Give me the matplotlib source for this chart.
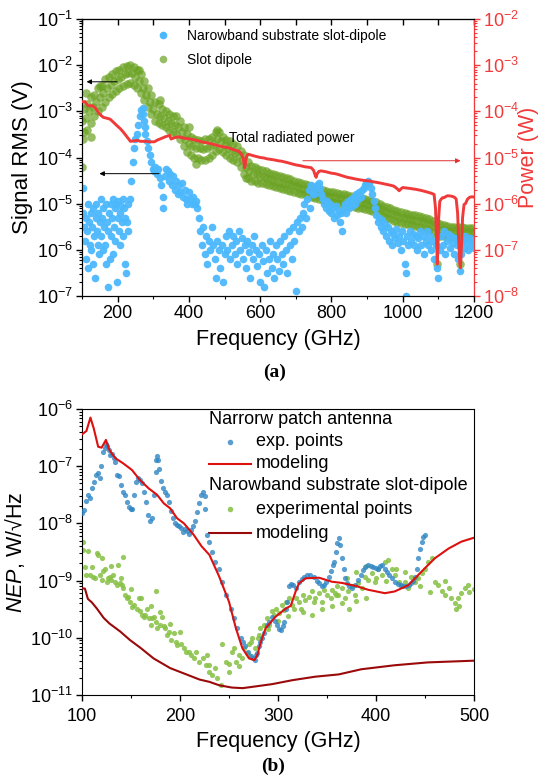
import numpy as np
import matplotlib
matplotlib.use("Agg")
import matplotlib.pyplot as plt
from matplotlib.lines import Line2D
from matplotlib.ticker import LogLocator, MultipleLocator, NullFormatter, FixedLocator

plt.rcParams['font.family'] = ['Liberation Sans', 'DejaVu Sans']
plt.rcParams['mathtext.fontset'] = 'custom'
plt.rcParams['mathtext.rm'] = 'Liberation Sans'
plt.rcParams['mathtext.it'] = 'Liberation Sans:italic'
plt.rcParams['mathtext.bf'] = 'Liberation Sans:bold'

# ---------------- panel (a) data (log10 values) ----------------
power_f = [100,108,117,130,140,146,155,160,170,179,190,198,208,217,226,236,245,255,265,279,290,303,312,322,334,346,350,360,370,380,393,405,416,427,440,450,460,467,480,490,505,515,525,538,545,552,555,557,560,563,567,580,590,600,610,620,638,650,660,676,690,700,714,725,743,750,755,757,760,765,771,785,800,810,820,832,845,858,870,885,895,907,920,935,953,965,975,985,990,995,1000,1010,1020,1037,1050,1060,1074,1082,1088,1092,1095,1097,1099,1101,1104,1108,1112,1116,1120,1125,1130,1138,1145,1150,1154,1157,1160,1162,1165,1168,1172,1176,1182,1188,1195,1200]
power_log10W = [-3.79,-3.79,-3.88,-3.88,-3.95,-4.03,-4.10,-4.13,-4.15,-4.17,-4.25,-4.31,-4.38,-4.46,-4.55,-4.65,-4.64,-4.63,-4.65,-4.65,-4.66,-4.66,-4.62,-4.59,-4.55,-4.52,-4.60,-4.57,-4.55,-4.57,-4.59,-4.60,-4.62,-4.64,-4.67,-4.68,-4.70,-4.71,-4.74,-4.76,-4.78,-4.80,-4.83,-4.86,-4.90,-5.00,-5.15,-5.22,-5.05,-4.95,-4.93,-4.96,-4.98,-5.00,-5.01,-5.03,-5.05,-5.07,-5.08,-5.11,-5.14,-5.16,-5.18,-5.20,-5.22,-5.28,-5.40,-5.43,-5.35,-5.30,-5.29,-5.31,-5.34,-5.35,-5.37,-5.40,-5.43,-5.45,-5.47,-5.49,-5.50,-5.51,-5.53,-5.55,-5.58,-5.60,-5.62,-5.68,-5.72,-5.68,-5.65,-5.66,-5.67,-5.69,-5.71,-5.73,-5.76,-5.78,-5.80,-6.10,-6.80,-7.31,-6.90,-6.30,-5.95,-5.90,-5.87,-5.87,-5.85,-5.83,-5.83,-5.84,-5.86,-5.90,-6.20,-6.80,-7.30,-7.39,-6.90,-6.30,-6.02,-6.00,-5.90,-5.86,-5.85,-5.86]

slot_f_mid = list(range(100, 1201, 10))
slot_log10V_mid = [-3.20,-3.15,-3.00,-2.90,-2.80,-2.70,-2.60,-2.50,-2.42,-2.35,-2.30,-2.25,-2.20,-2.18,-2.17,-2.25,-2.35,-2.50,-2.65,-2.80,-2.95,-3.05,-3.10,-3.15,-3.20,-3.25,-3.30,-3.35,-3.45,-3.60,-3.70,-3.75,-3.80,-3.80,-3.82,-3.80,-3.75,-3.70,-3.60,-3.65,-3.72,-3.80,-3.85,-3.90,-3.95,-4.05,-4.20,-4.30,-4.35,-4.35,-4.40,-4.42,-4.45,-4.47,-4.50,-4.52,-4.55,-4.57,-4.58,-4.60,-4.62,-4.65,-4.68,-4.70,-4.72,-4.75,-4.78,-4.80,-4.82,-4.84,-4.85,-4.86,-4.88,-4.89,-4.90,-4.93,-4.95,-4.97,-4.98,-4.99,-5.00,-5.02,-5.05,-5.08,-5.12,-5.16,-5.20,-5.22,-5.25,-5.28,-5.30,-5.31,-5.33,-5.35,-5.37,-5.38,-5.40,-5.42,-5.45,-5.50,-5.55,-5.56,-5.58,-5.59,-5.60,-5.60,-5.60,-5.61,-5.62,-5.62,-5.62]
slot_f_edge = list(range(105, 1200, 10))
slot_log10V_up = [-2.95,-2.85,-2.70,-2.65,-2.50,-2.45,-2.30,-2.25,-2.20,-2.12,-2.10,-2.05,-2.02,-2.00,-2.05,-2.10,-2.20,-2.35,-2.50,-2.65,-2.80,-2.85,-2.95,-3.00,-3.05,-3.10,-3.10,-3.20,-3.35,-3.50,-3.55,-3.60,-3.62,-3.65,-3.60,-3.60,-3.55,-3.45,-3.45,-3.55,-3.62,-3.65,-3.70,-3.75,-3.85,-3.95,-4.10,-4.18,-4.20,-4.25,-4.28,-4.30,-4.33,-4.35,-4.38,-4.40,-4.42,-4.44,-4.47,-4.50,-4.52,-4.55,-4.57,-4.60,-4.63,-4.65,-4.68,-4.70,-4.72,-4.74,-4.75,-4.77,-4.78,-4.80,-4.82,-4.84,-4.86,-4.88,-4.88,-4.90,-4.92,-4.94,-4.97,-5.00,-5.04,-5.08,-5.10,-5.13,-5.16,-5.18,-5.20,-5.22,-5.24,-5.25,-5.27,-5.29,-5.30,-5.33,-5.37,-5.42,-5.45,-5.47,-5.48,-5.50,-5.50,-5.50,-5.51,-5.52,-5.52,-5.52]
slot_log10V_lo = [-3.45,-3.40,-3.25,-3.10,-3.00,-2.90,-2.80,-2.70,-2.62,-2.55,-2.50,-2.45,-2.40,-2.38,-2.42,-2.50,-2.60,-2.75,-2.90,-3.05,-3.20,-3.25,-3.30,-3.35,-3.40,-3.45,-3.50,-3.60,-3.75,-3.88,-3.95,-4.00,-4.02,-4.05,-4.05,-4.00,-3.95,-3.85,-3.82,-3.88,-3.95,-4.00,-4.05,-4.10,-4.20,-4.35,-4.45,-4.50,-4.50,-4.55,-4.56,-4.58,-4.60,-4.62,-4.64,-4.66,-4.68,-4.70,-4.72,-4.74,-4.76,-4.78,-4.80,-4.83,-4.86,-4.88,-4.90,-4.93,-4.95,-4.96,-4.97,-4.99,-5.00,-5.02,-5.04,-5.06,-5.08,-5.09,-5.10,-5.11,-5.13,-5.16,-5.19,-5.23,-5.27,-5.31,-5.34,-5.37,-5.40,-5.42,-5.43,-5.45,-5.47,-5.49,-5.50,-5.52,-5.54,-5.57,-5.62,-5.68,-5.70,-5.70,-5.72,-5.72,-5.73,-5.73,-5.74,-5.74,-5.75,-5.75]
slot_f_extra = [100,104,112,125,150,260,320,400,420,480,560,1097,1162]
slot_log10V_extra = [-4.20,-3.60,-2.60,-3.55,-2.45,-2.10,-2.75,-3.35,-4.15,-3.40,-4.45,-6.30,-6.30]

nb_f = [102,104,106,108,110,112,114,116,118,120,122,124,126,128,130,132,134,136,138,140,142,144,146,148,150,152,154,156,158,160,162,164,166,168,170,172,174,176,178,180,182,184,186,188,190,192,194,196,198,200,202,204,206,208,210,212,214,216,218,220,222,224,226,228,230,
        234,238,242,246,250,254,258,262,266,270,272,274,276,278,282,286,290,294,298,302,
        306,310,314,318,322,326,328,332,336,340,344,348,352,356,360,364,368,372,376,380,384,388,392,396,400,404,408,412,416,420,424,428,432,436,440,444,448,452,456,460,
        464,468,472,476,480,484,488,492,496,500,504,508,512,516,520,524,528,532,536,540,544,548,552,556,560,564,568,572,576,580,584,588,592,596,600,604,608,612,616,620,624,628,632,636,640,644,648,652,656,660,664,668,672,676,680,684,688,692,696,700,704,708,712,716,720,724,728,732,736,740,744,748,
        752,756,760,764,768,772,776,780,784,788,792,796,800,804,808,812,816,820,824,828,830,834,838,842,846,850,854,858,862,866,870,874,878,882,886,890,894,898,902,906,910,914,918,922,926,930,934,938,942,946,950,954,958,962,966,970,974,978,982,986,990,994,998,1002,1006,1008,1010,1012,1016,1020,1024,1028,1032,1036,1040,1044,1048,1052,1056,1060,1064,1068,1072,1076,1080,1084,1088,1092,1096,1100,1104,1108,1112,1116,1120,1124,1128,1132,1136,1140,1144,1148,1152,1156,1160,1164,1168,1172,1176,1180,1184,1188,1192,1196,1200]
nb_log10V = [-4.65,-5.2,-5.5,-5.8,-6.2,-5.3,-5.6,-5.0,-6.4,-5.4,-5.9,-5.2,-6.0,-5.5,-5.1,-6.3,-5.7,-6.6,-5.3,-5.0,-5.6,-5.9,-5.2,-6.1,-5.4,-4.9,-5.7,-5.3,-6.0,-5.1,-5.5,-5.9,-5.0,-6.3,-5.4,-6.8,-5.6,-5.2,-6.2,-5.0,-5.7,-5.3,-6.1,-4.9,-5.5,-5.1,-5.8,-5.0,-6.7,-5.3,-4.95,-5.6,-5.2,-5.9,-5.05,-5.4,-4.9,-5.7,-5.1,-6.3,-5.3,-6.5,-5.4,-5.0,-5.6,
             -4.9,-4.5,-4.1,-3.8,-3.6,-3.5,-3.3,-3.1,-2.98,-2.92,-3.05,-3.2,-3.35,-3.5,-3.65,-3.8,-3.95,-4.1,-4.25,-4.3,
             -4.2,-4.35,-4.25,-4.45,-4.6,-4.85,-5.1,-4.4,-4.25,-4.3,-4.5,-4.35,-4.6,-4.4,-4.7,-4.5,-4.8,-4.6,-4.75,-4.55,-4.85,-4.7,-4.9,-5.0,-4.75,-4.9,-5.0,-4.85,-5.0,-4.95,-5.1,-5.3,-5.6,-5.9,-5.5,-6.1,-5.7,-6.3,-5.8,-6.0,
             -5.5,-5.9,-6.2,-6.6,-5.8,-6.0,-6.4,-5.9,-6.7,-6.1,-5.7,-6.0,-5.6,-6.2,-5.9,-5.7,-6.1,-5.8,-6.3,-5.6,-6.0,-5.75,-6.2,-5.9,-6.4,-5.8,-6.05,-6.6,-5.9,-6.2,-5.7,-6.0,-6.35,-6.1,-6.7,-5.9,-6.25,-6.8,-6.0,-6.5,-6.2,-5.8,-6.4,-6.1,-6.6,-5.9,-6.2,-6.45,-5.8,-6.1,-6.3,-5.7,-6.0,-6.5,-5.6,-5.9,-6.2,-5.5,-5.8,-6.9,-5.4,-5.6,-5.3,-5.5,-5.2,-5.0,-5.3,-4.9,-4.7,-5.1,-4.6,-4.8,
             -4.8,-4.65,-4.6,-4.55,-4.65,-4.8,-4.9,-5.0,-5.1,-4.95,-5.15,-5.0,-5.2,-5.1,-5.3,-5.05,-5.25,-5.15,-5.4,-5.2,-5.6,-5.1,-5.0,-5.2,-4.95,-5.1,-4.9,-5.05,-4.85,-5.0,-4.8,-4.9,-4.75,-4.85,-4.7,-4.65,-4.6,-4.55,-4.5,-4.55,-4.65,-4.8,-4.95,-5.1,-5.25,-5.4,-5.3,-5.5,-5.35,-5.6,-5.45,-5.7,-5.5,-5.8,-5.6,-5.9,-5.65,-5.75,-5.55,-5.85,-5.7,-6.0,-5.6,-5.8,-6.3,-6.5,-7.0,-5.7,-5.9,-5.6,-5.8,-5.65,-5.9,-5.7,-6.0,-5.75,-5.6,-5.9,-5.7,-6.1,-5.8,-5.6,-5.9,-5.7,-6.0,-5.8,-6.2,-5.9,-6.4,-6.6,-6.0,-5.7,-5.9,-5.6,-6.1,-5.8,-5.65,-5.95,-5.7,-5.85,-6.1,-5.75,-5.9,-6.2,-6.45,-6.1,-5.8,-5.95,-5.7,-5.85,-6.0,-5.75,-5.9,-5.8,-5.95]

# ---------------- panel (b) data (log10 values) ----------------
patch_exp_f = [100,102,104,106,108,110,112,114,116,118,119,121,123,124,126,128,129,131,133,134,136,138,140,142,144,146,148,150,151,153,155,157,159,161,163,165,167,169,171,173,175,176,177,178,179,181,183,185,187,189,191,193,195,197,199,201,203,205,207,209,211,213,215,217,219,221,223,225,226,228,230,233,236,240,243,247,252,255,258,262,264,266,269,272,274,276.5,278,279,281,282,284,286,289,291,294,297,299,301,303,305,306,308,309.5,311,313,315,318,321,324,327,330,333,337,340,342,345,347,349,352,354,356,357,359,360.5,362,363,365,367,368.5,370,372,375,379,382,385,387,389,392,395,397,400,402,404,406,409,411,413,416,419,422,425,428,431,434,436,438,440,441.5,443,445,446.6,448,450]
patch_exp_log10 = [-7.82,-7.77,-7.6,-7.5,-7.55,-7.38,-7.27,-7.15,-7.12,-7.2,-7.0,-6.75,-6.68,-6.62,-6.64,-6.72,-6.8,-6.78,-6.86,-6.92,-7.15,-7.18,-7.33,-7.45,-7.5,-7.62,-7.71,-7.74,-7.74,-7.5,-7.27,-7.2,-7.24,-7.3,-7.45,-7.62,-7.85,-7.95,-7.9,-7.5,-7.1,-6.9,-6.83,-6.9,-7.05,-7.25,-7.38,-7.45,-7.5,-7.62,-7.78,-7.9,-8.0,-8.03,-8.05,-8.08,-8.15,-8.1,-8.13,-8.18,-8.12,-8.05,-7.95,-7.8,-7.65,-7.5,-7.45,-7.52,-7.74,-8.2,-8.32,-8.5,-8.67,-8.79,-9.02,-9.25,-9.49,-9.66,-9.83,-10.0,-10.07,-10.15,-10.24,-10.32,-10.36,-10.39,-10.3,-10.27,-10.15,-10.07,-10.0,-9.92,-9.78,-9.72,-9.63,-9.7,-9.78,-9.84,-9.86,-9.8,-9.72,-9.5,-9.37,-9.1,-9.06,-9.08,-9.13,-9.02,-8.97,-8.93,-8.9,-8.9,-8.93,-9.0,-9.05,-9.1,-9.07,-9.02,-8.93,-8.84,-8.72,-8.67,-8.5,-8.35,-8.26,-8.38,-8.61,-8.79,-8.96,-9.05,-9.1,-9.13,-9.08,-8.99,-8.9,-8.82,-8.76,-8.73,-8.74,-8.76,-8.78,-8.79,-8.75,-8.73,-8.79,-8.85,-8.9,-8.96,-9.02,-9.06,-9.08,-9.1,-9.1,-9.07,-9.05,-9.0,-8.93,-8.79,-8.61,-8.44,-8.32,-8.23,-8.2]

patch_model_f = [100,104.5,108.6,112,116.5,120,124.4,128,134,142,151,159,168,176.6,183.5,190,197,204,214,222,230,240,250,257,263.6,270.4,276,279,282,287.4,297.6,307.8,313,318,321.4,328,342,355,365,378.6,392,409,419,433,446.6,460,474,487,500]
patch_model_log10 = [-6.443,-6.385,-6.15,-6.34,-6.66,-6.676,-6.54,-6.717,-6.86,-6.95,-7.066,-7.24,-7.387,-7.5,-7.65,-7.737,-7.91,-8.0,-8.2,-8.4,-8.55,-8.93,-9.37,-9.83,-10.18,-10.36,-10.39,-10.3,-10.1,-9.83,-9.63,-9.49,-9.44,-9.19,-9.05,-8.96,-8.95,-9.02,-9.04,-9.09,-9.16,-9.22,-9.19,-9.08,-8.84,-8.61,-8.44,-8.32,-8.25]

slotb_exp_f = [101,101,103,104.5,106,108,110,111,113,115,116.5,118,120,121.6,123,125,127,128.5,130,132,133.7,135.4,137,139,140.5,142,144,142,145.7,147.4,149,151,152.6,156,157.7,159.5,161,163,164.6,166,168,170,171.5,173,175,175,176.6,180,181.8,183.5,185,187,188.7,190.4,193.8,195.5,197,200.7,204,206,209,211,214.4,216,219.6,223,226.5,228,
               229.6,233,236,238,241.5,243,246.6,250,253,255,257,260,263.6,265,268.7,270,272,273.8,277,280.6,282,285.7,289,291,294,296,297.6,301,304,306,308,311,314.6,316,318,321,323,325,328,331.6,335,336.7,338,342,345,347,350,353.7,355,359,360.5,
               358,361.6,365,368.4,371.8,375,378.6,382,385.4,388.8,392,395.6,399,402,406,409,412.6,416,419,423,426,429.6,433,436,440,443,446.6,450,453,456.8,460,463.6,467,470,474,477,480.6,484,487,491,494,482,
               325,335,345,355,365,372,380,390,300,310,290,280,270,260,250,230,200,190,180,170,160,150,140,130,120,420,430,445,455,470,485,495,500,400,410,390,380,370]
slotb_exp_log10 = [-8.32,-8.47,-8.76,-8.9,-8.49,-8.9,-8.76,-8.93,-8.96,-8.52,-8.55,-8.9,-8.99,-8.84,-8.79,-9.02,-8.96,-8.93,-8.99,-8.9,-9.02,-9.08,-8.73,-9.05,-9.08,-9.13,-9.25,-8.58,-9.31,-9.28,-9.37,-9.46,-9.43,-9.49,-9.31,-9.54,-9.6,-9.63,-9.6,-9.49,-9.66,-9.78,-9.66,-9.63,-9.19,-9.72,-9.83,-9.78,-9.63,-9.8,-9.83,-9.95,-9.89,-10.04,-9.92,-10.07,-10.13,-10.1,-10.18,-10.24,-10.24,-10.3,-10.36,-10.24,-10.42,-10.36,-10.48,-10.3,
                   -10.48,-10.65,-10.53,-10.71,-10.83,-10.1,-10.42,-10.59,-10.24,-10.18,-10.42,-10.3,-10.36,-10.18,-10.27,-10.1,-10.07,-10.01,-10.18,-9.95,-9.83,-9.78,-9.66,-9.78,-9.54,-9.6,-9.49,-9.57,-9.43,-9.51,-9.37,-9.31,-9.43,-9.49,-9.31,-9.37,-9.49,-9.25,-9.34,-9.28,-9.19,-9.37,-9.31,-9.22,-9.37,-9.16,-9.25,-9.31,-9.16,-9.25,-9.1,
                   -9.22,-9.25,-9.13,-9.31,-9.19,-9.1,-9.25,-9.05,-9.13,-8.93,-8.99,-8.87,-9.02,-8.79,-8.9,-8.67,-8.64,-8.79,-8.9,-9.02,-9.1,-9.02,-9.13,-8.93,-9.02,-8.96,-8.87,-8.79,-8.67,-8.61,-9.02,-9.08,-9.19,-9.25,-9.13,-9.31,-9.4,-9.31,-9.22,-9.13,-9.08,-9.49,
                   -9.55,-9.6,-9.5,-9.45,-9.4,-9.5,-9.35,-9.3,-9.7,-9.62,-9.85,-10.0,-10.3,-10.5,-10.45,-10.6,-9.9,-9.75,-9.55,-9.45,-9.3,-9.15,-8.95,-8.75,-8.6,-8.8,-8.85,-9.1,-9.2,-9.0,-9.45,-9.2,-9.15,-8.95,-9.0,-8.75,-8.85,-8.95]

slotb_model_f = [100,103,106,110,115,122,128,139,149,160,173,190,208,220,230,240,253,264,277,294,315,338,362,385,419,453,500]
slotb_model_log10 = [-9.135,-9.14,-9.32,-9.38,-9.485,-9.65,-9.75,-9.89,-10.04,-10.18,-10.36,-10.53,-10.65,-10.73,-10.77,-10.83,-10.87,-10.88,-10.85,-10.81,-10.74,-10.68,-10.64,-10.55,-10.48,-10.43,-10.40]

# ---------------- figure ----------------
W, H = 541, 782
fig = plt.figure(figsize=(W / 100, H / 100), dpi=100)

def frac_axes(l, t, r, b):
    return [l / W, 1 - b / H, (r - l) / W, (b - t) / H]

C_BLUE = '#4cb8fc'
C_GREEN = '#6aa222'
C_RED = '#f03a3a'

ax1 = fig.add_axes(frac_axes(82, 19, 474, 296))
for fx, fy in [(slot_f_mid, slot_log10V_mid), (slot_f_edge, slot_log10V_up),
               (slot_f_edge, slot_log10V_lo), (slot_f_extra, slot_log10V_extra)]:
    ax1.scatter(fx, 10 ** np.array(fy), s=38, color=C_GREEN, alpha=0.7, lw=0, zorder=2)
ax1.scatter(nb_f, 10 ** np.array(nb_log10V), s=30, color=C_BLUE, alpha=0.95, lw=0, zorder=3)
ax1.set_xlim(100, 1200)
ax1.set_ylim(1e-7, 1e-1)
ax1.set_yscale('log')
ax1.xaxis.set_major_locator(MultipleLocator(200))
ax1.xaxis.set_minor_locator(MultipleLocator(100))
ax1.yaxis.set_major_locator(LogLocator(base=10, numticks=20))
ax1.yaxis.set_minor_locator(LogLocator(base=10, subs=np.arange(2, 10), numticks=20))
ax1.yaxis.set_minor_formatter(NullFormatter())
ax1.tick_params(axis='both', which='major', direction='out', length=4.5, width=1, labelsize=13, pad=2)
ax1.tick_params(axis='both', which='minor', direction='out', length=2.5, width=0.8)
ax1.set_xlabel('Frequency (GHz)', fontsize=15.5, labelpad=5)
ax1.set_ylabel('Signal RMS (V)', fontsize=16, labelpad=3)
sec = ax1.secondary_xaxis('top')
sec.set_xticks(np.arange(100, 1201, 100))
sec.tick_params(direction='in', length=4.5, width=1, labeltop=False)
sec.xaxis.set_minor_locator(FixedLocator([]))

ax1r = ax1.twinx()
ax1r.plot(power_f, 10 ** np.array(power_log10W), color=C_RED, lw=2.1, zorder=4)
ax1r.set_yscale('log')
ax1r.set_ylim(1e-8, 1e-2)
ax1r.yaxis.set_major_locator(LogLocator(base=10, numticks=20))
ax1r.yaxis.set_minor_locator(LogLocator(base=10, subs=np.arange(2, 10), numticks=20))
ax1r.yaxis.set_minor_formatter(NullFormatter())
ax1r.tick_params(axis='y', which='major', direction='out', length=4.5, width=1, labelsize=13, colors=C_RED, pad=2)
ax1r.tick_params(axis='y', which='minor', direction='out', length=2.5, width=0.8, colors=C_RED)
ax1r.spines['right'].set_color(C_RED)
ax1r.set_ylabel('Power (W)', fontsize=15.5, color=C_RED)
ax1r.yaxis.set_label_coords((518 - 82) / 392, 0.5)

# arrows and annotation (right-axis data coords)
ax1r.annotate('', xy=(105, 10 ** -3.36), xytext=(206, 10 ** -3.36),
              arrowprops=dict(arrowstyle='-|>', color='black', lw=0.7, mutation_scale=7))
ax1r.annotate('', xy=(141, 10 ** -5.35), xytext=(324, 10 ** -5.35),
              arrowprops=dict(arrowstyle='-|>', color='black', lw=0.7, mutation_scale=7))
ax1r.annotate('', xy=(1170, 10 ** -5.07), xytext=(712, 10 ** -5.07),
              arrowprops=dict(arrowstyle='-|>', color='#e23030', lw=0.7, mutation_scale=7))
ax1.text(512, 10 ** -3.57, 'Total radiated power', fontsize=10, ha='left', va='center', zorder=6)

h_nb = Line2D([], [], ls='', marker='o', ms=5.5, mec='none', mfc=C_BLUE)
h_sl = Line2D([], [], ls='', marker='o', ms=5.5, mec='none', mfc=C_GREEN, alpha=0.7)
leg = ax1r.legend([h_nb, h_sl], ['Narowband substrate slot-dipole', 'Slot dipole'], loc='upper left',
                  bbox_to_anchor=(0.19, 0.965), frameon=False, fontsize=10, borderpad=0,
                  handlelength=1.0, handletextpad=1.2, labelspacing=0.75, borderaxespad=0)

fig.text(0.508, 1 - 372 / H, '(a)', ha='center', va='center', fontsize=14, fontweight='bold',
         family='Liberation Serif')

# ---------------- panel (b) ----------------
C_BLUE2 = '#2f86c4'
C_GREEN2 = '#86c043'
C_RED2 = '#dd1010'
C_DRED = '#9a0a0a'

ax2 = fig.add_axes(frac_axes(82, 409, 474, 695))
ax2.scatter(slotb_exp_f, 10 ** np.array(slotb_exp_log10), s=14, color=C_GREEN2, alpha=0.85, lw=0, zorder=2)
ax2.scatter(patch_exp_f, 10 ** np.array(patch_exp_log10), s=14, color=C_BLUE2, alpha=0.8, lw=0, zorder=3)
ax2.plot(patch_model_f, 10 ** np.array(patch_model_log10), color=C_RED2, lw=1.5, zorder=4)
ax2.plot(slotb_model_f, 10 ** np.array(slotb_model_log10), color=C_DRED, lw=1.5, zorder=4)
ax2.set_yscale('log')
ax2.set_xlim(100, 500)
ax2.set_ylim(1e-11, 1e-6)
ax2.xaxis.set_major_locator(MultipleLocator(100))
ax2.xaxis.set_minor_locator(MultipleLocator(50))
ax2.yaxis.set_major_locator(LogLocator(base=10, numticks=20))
ax2.yaxis.set_minor_locator(LogLocator(base=10, subs=np.arange(2, 10), numticks=20))
ax2.yaxis.set_minor_formatter(NullFormatter())
ax2.tick_params(axis='both', which='major', direction='out', length=4.5, width=1, labelsize=13, pad=2)
ax2.tick_params(axis='x', which='major', pad=5)
ax2.tick_params(axis='both', which='minor', direction='out', length=2.5, width=0.8)
ax2.set_xlabel('Frequency (GHz)', fontsize=15.5, labelpad=4)
ax2.set_ylabel(r'$\it{NEP}$, W/√Hz', fontsize=15.5, labelpad=2)

# legend (manual, in axes fraction)
fs = 13
tx = 0.444
ax2.text(0.324, 0.965, 'Narrorw patch antenna', transform=ax2.transAxes, fontsize=fs, va='center', ha='left')
ax2.plot([0.378], [0.885], transform=ax2.transAxes, ls='', marker='o', ms=4, mec='none', mfc=C_BLUE2, alpha=0.8)
ax2.text(tx, 0.885, 'exp. points', transform=ax2.transAxes, fontsize=fs, va='center', ha='left')
ax2.plot([0.324, 0.431], [0.808, 0.808], transform=ax2.transAxes, color=C_RED2, lw=1.5)
ax2.text(tx, 0.808, 'modeling', transform=ax2.transAxes, fontsize=fs, va='center', ha='left')
ax2.text(0.324, 0.731, 'Narowband substrate slot-dipole', transform=ax2.transAxes, fontsize=fs, va='center', ha='left')
ax2.plot([0.378], [0.650], transform=ax2.transAxes, ls='', marker='o', ms=4, mec='none', mfc=C_GREEN2, alpha=0.85)
ax2.text(tx, 0.650, 'experimental points', transform=ax2.transAxes, fontsize=fs, va='center', ha='left')
ax2.plot([0.324, 0.431], [0.566, 0.566], transform=ax2.transAxes, color=C_DRED, lw=1.5)
ax2.text(tx, 0.566, 'modeling', transform=ax2.transAxes, fontsize=fs, va='center', ha='left')

fig.text(0.505, 1 - 766 / H, '(b)', ha='center', va='center', fontsize=14, fontweight='bold',
         family='Liberation Serif')

fig.savefig('out.png', dpi=100)
